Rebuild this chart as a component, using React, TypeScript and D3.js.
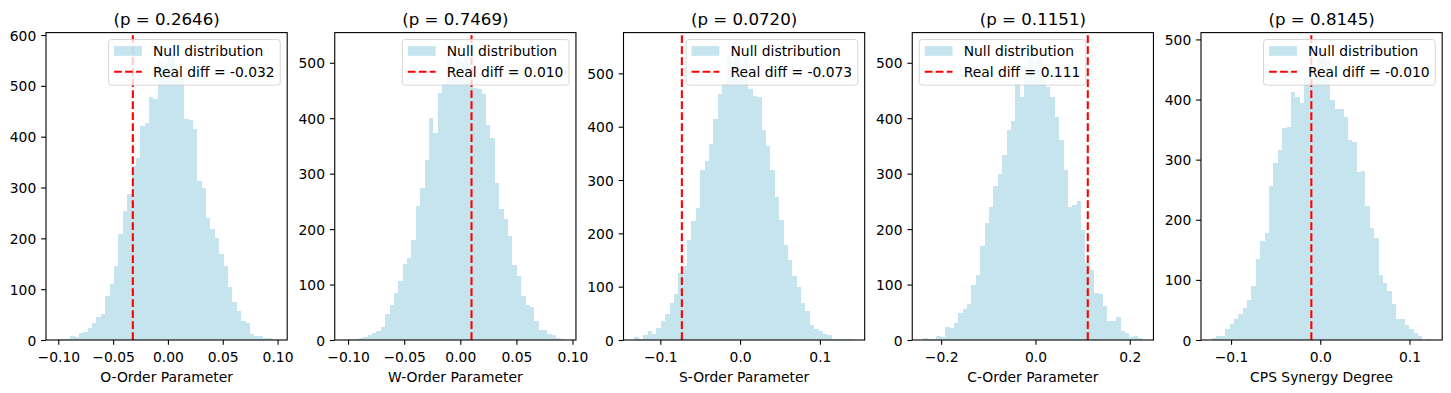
import React, { useEffect, useRef } from 'react';
import * as d3 from 'd3';

// ---- data ----
const titles = ['(p = 0.2646)', '(p = 0.7469)', '(p = 0.0720)', '(p = 0.1151)', '(p = 0.8145)'];
const xLabels = ['O-Order Parameter', 'W-Order Parameter', 'S-Order Parameter', 'C-Order Parameter', 'CPS Synergy Degree'];
const realDiffs = [-0.032, 0.010, -0.073, 0.111, -0.010];
const realDiffLabels = ['-0.032', '0.010', '-0.073', '0.111', '-0.010'];
// range of the permutation values (first / last bin edge), 50 bins each
const binRanges: [number, number][] = [
  [-0.1012, 0.0988],
  [-0.1021, 0.0933],
  [-0.1324, 0.1424],
  [-0.238, 0.227],
  [-0.1214, 0.1244],
];

const oCounts = [2, 1, 2, 8, 5, 13, 16, 24, 34, 45, 52, 87, 110, 145, 208, 254, 287, 343, 358, 421,
  426, 478, 474, 548, 545, 576, 562, 538, 515, 434, 432, 416, 313, 300, 240, 218, 200, 170, 146, 105,
  75, 57, 38, 34, 12, 8, 7, 4, 3, 2];
const wCounts = [1, 2, 2, 3, 5, 9, 12, 16, 24, 46, 64, 85, 106, 137, 147, 181, 242, 275, 325, 401,
  374, 446, 464, 528, 490, 508, 502, 514, 490, 454, 452, 443, 388, 364, 284, 237, 218, 188, 135, 116,
  79, 63, 60, 34, 18, 18, 10, 9, 4, 2];
const sCounts = [6, 2, 9, 17, 11, 22, 36, 48, 70, 86, 125, 139, 187, 223, 247, 318, 335, 368, 415, 462,
  482, 537, 521, 549, 500, 532, 471, 457, 456, 393, 364, 318, 268, 225, 179, 150, 120, 100, 70, 54,
  28, 20, 17, 11, 9, 2, 2, 2, 2, 1];
const cCounts = [3, 2, 2, 7, 5, 24, 21, 31, 48, 56, 65, 99, 117, 169, 211, 239, 278, 300, 334, 379,
  395, 463, 439, 490, 528, 502, 517, 469, 457, 439, 403, 361, 306, 239, 243, 251, 198, 138, 126, 85,
  83, 61, 34, 34, 41, 16, 12, 5, 7, 4];
const cpsCounts = [4, 7, 6, 18, 27, 35, 44, 53, 67, 90, 135, 165, 178, 257, 295, 316, 352, 355, 412, 405,
  395, 437, 432, 430, 471, 487, 468, 399, 384, 384, 371, 333, 330, 280, 281, 223, 186, 169, 108, 95,
  82, 60, 35, 35, 25, 19, 12, 7, 0, 2];
const allCounts = [oCounts, wCounts, sCounts, cCounts, cpsCounts];

const xTicks = [
  [-0.1, -0.05, 0, 0.05, 0.1],
  [-0.1, -0.05, 0, 0.05, 0.1],
  [-0.1, 0, 0.1],
  [-0.2, 0, 0.2],
  [-0.1, 0, 0.1],
];
const xTickFormats = ['.2f', '.2f', '.1f', '.1f', '.1f'];
const yTicks = [
  [0, 100, 200, 300, 400, 500, 600],
  [0, 100, 200, 300, 400, 500],
  [0, 100, 200, 300, 400, 500],
  [0, 100, 200, 300, 400, 500],
  [0, 100, 200, 300, 400, 500],
];
const legendSide = ['right', 'right', 'right', 'left', 'right'];

const W = 1451;
const H = 393;
const FS = 13.89;
const FONT = 'DejaVu Sans';

export default function App() {
  const ref = useRef<SVGSVGElement>(null);

  useEffect(() => {
    const svg = d3.select(ref.current);
    svg.selectAll('*').remove();
    svg.append('rect').attr('width', W).attr('height', H).attr('fill', 'white');

    allCounts.forEach((counts, i) => {
      const left = 46 + i * 288.75;
      const right = left + 241.2;
      const top = 32.6;
      const bottom = 340;
      const [lo, hi] = binRanges[i];
      const pad = (hi - lo) * 0.05;
      const x = d3.scaleLinear().domain([lo - pad, hi + pad]).range([left, right]);
      const y = d3.scaleLinear().domain([0, (d3.max(counts) as number) * 1.05]).range([bottom, top]);
      const bw = (hi - lo) / counts.length;
      const g = svg.append('g');

      // histogram bars
      g.append('g')
        .selectAll('rect')
        .data(counts)
        .join('rect')
        .attr('x', (d, j) => Math.round(x(lo + j * bw)))
        .attr('width', (d, j) => Math.round(x(lo + (j + 1) * bw)) - Math.round(x(lo + j * bw)))
        .attr('y', d => y(d))
        .attr('height', d => bottom - y(d))
        .attr('fill', '#add8e6')
        .attr('fill-opacity', 0.7)
        .attr('shape-rendering', 'crispEdges');

      // real diff line
      g.append('line')
        .attr('x1', x(realDiffs[i])).attr('x2', x(realDiffs[i]))
        .attr('y1', bottom).attr('y2', top)
        .attr('stroke', 'red')
        .attr('stroke-width', 2.08)
        .attr('stroke-dasharray', '7.7,3.3');

      // axes
      const xa = g.append('g')
        .attr('transform', `translate(0,${bottom})`)
        .call(d3.axisBottom(x).tickValues(xTicks[i]).tickFormat(d3.format(xTickFormats[i]) as any)
          .tickSize(4.86).tickSizeOuter(0));
      xa.select('.domain').remove();
      xa.attr('font-family', FONT).attr('font-size', FS);
      xa.selectAll('line').attr('stroke', 'black').attr('stroke-width', 1.1);
      xa.selectAll('text').attr('fill', 'black').attr('dy', null).attr('y', 21.5);

      const ya = g.append('g')
        .attr('transform', `translate(${left},0)`)
        .call(d3.axisLeft(y).tickValues(yTicks[i]).tickFormat(d3.format('d') as any)
          .tickSize(4.86).tickPadding(4.86).tickSizeOuter(0));
      ya.select('.domain').remove();
      ya.attr('font-family', FONT).attr('font-size', FS);
      ya.selectAll('line').attr('stroke', 'black').attr('stroke-width', 1.1);
      ya.selectAll('text').attr('fill', 'black').attr('dy', '0.36em');

      // spines
      g.append('rect')
        .attr('x', left).attr('y', top)
        .attr('width', right - left).attr('height', bottom - top)
        .attr('fill', 'none').attr('stroke', 'black').attr('stroke-width', 1.1);

      // title and label
      g.append('text')
        .attr('x', (left + right) / 2).attr('y', 24.5)
        .attr('text-anchor', 'middle')
        .attr('font-family', FONT).attr('font-size', 16.67)
        .text(titles[i]);
      g.append('text')
        .attr('x', (left + right) / 2).attr('y', 381.5)
        .attr('text-anchor', 'middle')
        .attr('font-family', FONT).attr('font-size', FS)
        .text(xLabels[i]);

      // legend
      const bp = 0.4 * FS, hl = 2 * FS, htp = 0.8 * FS, ls = 0.5 * FS, bap = 0.5 * FS;
      const rowH = 13.75;
      const lg = g.append('g');
      const labels = ['Null distribution', `Real diff = ${realDiffLabels[i]}`];
      const texts = lg.selectAll('text')
        .data(labels)
        .join('text')
        .attr('font-family', FONT).attr('font-size', FS)
        .attr('dy', '0.36em')
        .text(d => d);
      let textW = 0;
      texts.each(function () {
        textW = Math.max(textW, (this as SVGTextElement).getComputedTextLength());
      });
      const frameW = 2 * bp + hl + htp + textW;
      const frameH = 2 * bp + 2 * rowH + ls;
      const fx = legendSide[i] === 'right' ? right - bap - frameW : left + bap;
      const fy = top + bap;
      const row1 = fy + bp + rowH / 2 - 1;
      const row2 = row1 + rowH + ls;
      lg.insert('rect', ':first-child')
        .attr('x', fx).attr('y', fy)
        .attr('width', frameW).attr('height', frameH)
        .attr('rx', 2.8)
        .attr('fill', 'white').attr('fill-opacity', 0.8)
        .attr('stroke', '#cccccc').attr('stroke-opacity', 0.8).attr('stroke-width', 1);
      texts.attr('x', fx + bp + hl + htp).attr('y', (d, j) => (j === 0 ? row1 : row2));
      lg.append('rect')
        .attr('x', fx + bp).attr('y', row1 - 0.35 * FS)
        .attr('width', hl).attr('height', 0.7 * FS)
        .attr('fill', '#add8e6').attr('fill-opacity', 0.7);
      lg.append('line')
        .attr('x1', fx + bp).attr('x2', fx + bp + hl)
        .attr('y1', row2).attr('y2', row2)
        .attr('stroke', 'red').attr('stroke-width', 2.08)
        .attr('stroke-dasharray', '7.7,3.3');
    });
  }, []);

  return (
    <svg
      ref={ref}
      width={W}
      height={H}
      style={{ position: 'absolute', left: 0, top: 0, display: 'block' }}
    />
  );
}
